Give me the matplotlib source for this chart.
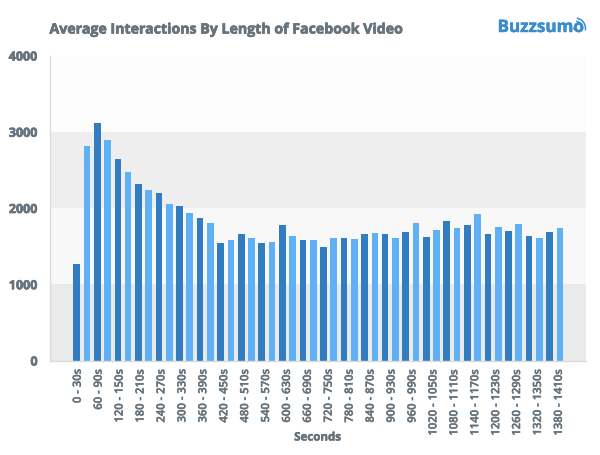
import numpy as np
import matplotlib
matplotlib.use("Agg")
import matplotlib.pyplot as plt
import matplotlib.patheffects as pe
from matplotlib.patches import Arc, Circle

plt.rcParams["font.family"] = ["Open Sans", "DejaVu Sans"]

TEXT_COLOR = "#66737d"
DARK_BLUE = "#327dc2"
LIGHT_BLUE = "#5fb0f5"
LOGO_BLUE = "#3b8ccb"

# average interactions per 30s bucket
values = [
    1270, 2815, 3110, 2890, 2637, 2475, 2317, 2230, 2203, 2050, 2020, 1940,
    1870, 1805, 1546, 1577, 1656, 1603, 1542, 1560, 1783, 1630, 1580, 1580,
    1489, 1607, 1612, 1590, 1656, 1678, 1656, 1612, 1690, 1805, 1625, 1708,
    1826, 1738, 1774, 1922, 1656, 1752, 1695, 1787, 1638, 1612, 1690, 1735,
]
labels = ["%d - %ds" % (s, s + 30) for s in range(0, 1440, 60)]

# background bands (bottom value, top value, colour)
bands = [
    (0, 1000, "#e9eaea"),
    (1000, 2000, "#f8f8f8"),
    (2000, 3000, "#eeeeef"),
    (3000, 4000, "#fdfdfd"),
]


def heavy(text, color=TEXT_COLOR, width=0.5):
    # the installed bold is a bit light, thicken it with a thin stroke
    text.set_fontweight("bold")
    text.set_path_effects([pe.withStroke(linewidth=width, foreground=color)])


def draw_logo(fig):
    logo = fig.text(497.5 / 600, 1 - 28 / 456, "Buzzsumo", color=LOGO_BLUE, fontsize=12.3,
                    ha="left", va="center")
    heavy(logo, LOGO_BLUE, 0.35)
    # overlay axes in pixel units for the signal arcs on the logo
    ax = fig.add_axes([0, 0, 1, 1], facecolor="none")
    ax.set_xlim(0, 600)
    ax.set_ylim(456, 0)
    ax.axis("off")
    cx, cy = 575, 29.5
    ax.add_patch(Circle((cx, cy), 1.2, color=LOGO_BLUE))
    for r in [7.5, 10.5]:
        ax.add_patch(Arc((cx, cy), 2 * r, 2 * r, theta1=-80, theta2=10,
                         color=LOGO_BLUE, lw=1.1))


def main():
    fig = plt.figure(figsize=(6, 4.56), dpi=100)
    ax = fig.add_axes([49.5 / 600, 1 - 361.5 / 456, 536.5 / 600, 305 / 456])

    for low, high, color in bands:
        ax.axhspan(low, high, color=color, lw=0, zorder=0)

    x = np.arange(len(values))
    colors = [DARK_BLUE if i % 2 == 0 else LIGHT_BLUE for i in x]
    ax.bar(x, values, width=0.65, color=colors, zorder=2)

    ax.set_xlim(-2.65, 49.54)
    ax.set_ylim(0, 4000)

    ax.set_yticks([0, 1000, 2000, 3000, 4000])
    ax.tick_params(axis="y", length=0, pad=8.5, labelsize=9, labelcolor=TEXT_COLOR)
    for t in ax.get_yticklabels():
        heavy(t)

    # labels are spread evenly over the bars, not one per two bars exactly
    ax.set_xticks(np.linspace(0.15, 46.95, 24))
    ax.set_xticklabels(labels, rotation=90, fontsize=8.1, color=TEXT_COLOR,
                       fontweight="semibold")
    for t in ax.get_xticklabels():
        t.set_path_effects([pe.withStroke(linewidth=0.3, foreground=TEXT_COLOR)])
    ax.tick_params(axis="x", length=0, pad=6)

    ax.set_xlabel("Seconds", fontsize=8.3, color=TEXT_COLOR)
    heavy(ax.xaxis.label, width=0.4)
    ax.xaxis.set_label_coords((317.5 - 49.5) / 536.5, -(438 - 361.5) / 305, transform=ax.transAxes)
    ax.xaxis.label.set_va("center")

    for side in ["top", "right"]:
        ax.spines[side].set_visible(False)
    ax.spines["left"].set_color("#dcdcdc")
    ax.spines["bottom"].set_color("#dcdcdc")
    ax.spines["left"].set_linewidth(1)
    ax.spines["bottom"].set_linewidth(1)

    title = fig.text(49.5 / 600, 1 - 30.5 / 456, "Average Interactions By Length of Facebook Video",
                     color=TEXT_COLOR, fontsize=10.2, ha="left", va="center")
    heavy(title)

    draw_logo(fig)
    fig.savefig("out.png", dpi=100)
    plt.close(fig)


if __name__ == "__main__":
    main()
